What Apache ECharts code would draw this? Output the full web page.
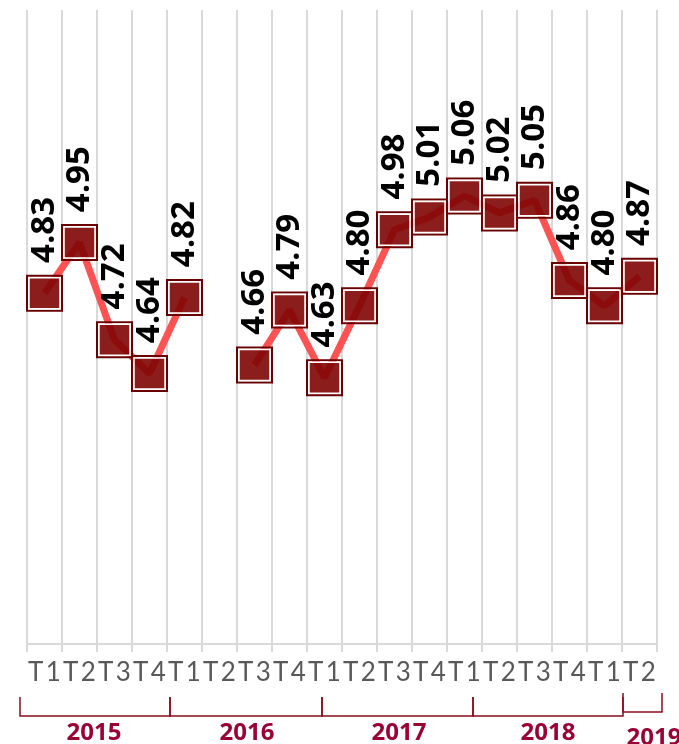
<!DOCTYPE html>
<html>
<head>
<meta charset="utf-8">
<script src="https://cdn.jsdelivr.net/npm/echarts@6/dist/echarts.min.js"></script>
<style>
html, body { margin: 0; padding: 0; background: #fff; }
#chart { width: 679px; height: 744px; }
</style>
</head>
<body>
<div id="chart"></div>
<script>
// trimestres 2015 T1 -> 2019 T2
var quarters = ['T1','T2','T3','T4','T1','T2','T3','T4','T1','T2','T3','T4','T1','T2','T3','T4','T1','T2'];
var values = [4.83, 4.95, 4.72, 4.64, 4.82, null, 4.66, 4.79, 4.63, 4.80, 4.98, 5.01, 5.06, 5.02, 5.05, 4.86, 4.80, 4.87];
var years = ['2015', '2016', '2017', '2018', '2019'];

// layout of the year brackets under the axis (pixels)
var bracketX = [20, 170, 322, 473, 623, 662];
var yearLabelX = [94, 247, 399, 548, 654];

function yearGraphics() {
    var els = [];
    for (var i = 0; i < years.length; i++) {
        var x0 = bracketX[i], x1 = bracketX[i + 1];
        var top = i == 4 ? 693 : 697, bot = i == 4 ? 712 : 716;
        els.push({
            type: 'polyline',
            shape: { points: [[x0, top], [x0, bot], [x1, bot], [x1, top]] },
            style: { stroke: '#8b0c1c', lineWidth: 1.5, fill: null },
            silent: true
        });
        els.push({
            type: 'text',
            x: yearLabelX[i],
            y: i == 4 ? 738 : 733,
            style: {
                text: years[i],
                font: 'bold 24px "Open Sans"',
                fill: '#990033',
                textAlign: 'center', textVerticalAlign: 'middle',
                align: 'center', verticalAlign: 'middle'
            },
            silent: true
        });
    }
    return els;
}

var chart = echarts.init(document.getElementById('chart'));
var option = {
    animation: false,
    grid: { left: 27, right: 22, top: 10, bottom: 100 },
    xAxis: {
        type: 'category',
        data: quarters,
        boundaryGap: true,
        axisLine: { lineStyle: { color: '#d9d9d9', width: 2 } },
        axisTick: { show: true, length: 8, lineStyle: { color: '#d9d9d9', width: 2 } },
        splitLine: { show: true, lineStyle: { color: '#d9d9d9', width: 2 } },
        axisLabel: {
            interval: 0,
            margin: 16,
            formatter: function(v) {
                return v.split('').map(function(c) { return '{c|' + c + '}'; }).join('');
            },
            rich: {
                c: { width: 17.5, align: 'center', fontFamily: 'Lato', fontSize: 26, color: '#595959' }
            }
        }
    },
    yAxis: {
        type: 'value',
        min: 4,
        max: 5.5,
        show: false
    },
    series: [{
        type: 'line',
        data: values,
        symbol: 'none',
        z: 1,
        lineStyle: { color: '#ff5252', width: 7 }
    }, {
        type: 'scatter',
        data: values,
        symbol: 'rect',
        symbolSize: 35,
        z: 2,
        silent: true,
        itemStyle: { opacity: 1, color: 'rgba(0,0,0,0)', borderColor: '#6a0000', borderWidth: 2 }
    }, {
        type: 'scatter',
        data: values,
        symbol: 'rect',
        symbolSize: 31,
        z: 3,
        silent: true,
        itemStyle: { opacity: 1, color: 'rgba(128,4,4,0.9)', borderColor: '#ffffff', borderWidth: 1.5 },
        label: {
            show: true,
            position: 'top',
            distance: 14,
            rotate: 90,
            align: 'left',
            verticalAlign: 'middle',
            formatter: function(p) { return '{v|' + p.value.toFixed(2) + '}'; },
            rich: {
                v: { fontFamily: 'Open Sans', fontWeight: 'bold', fontSize: 33, color: '#000' }
            }
        }
    }],
    graphic: yearGraphics()
};
chart.setOption(option);
</script>
</body>
</html>
